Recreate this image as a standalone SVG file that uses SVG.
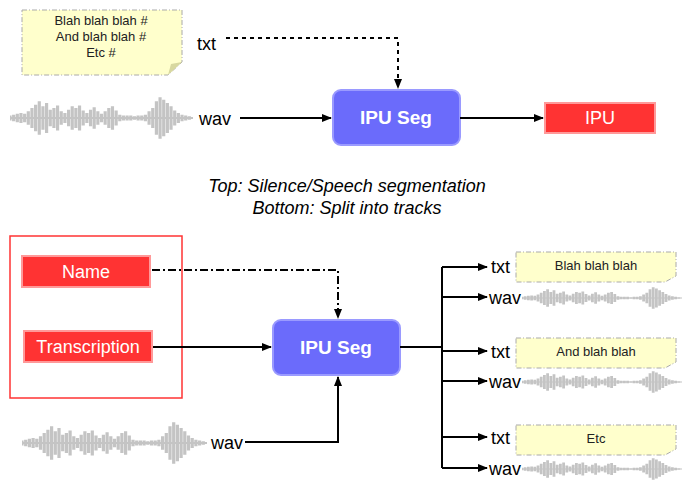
<svg xmlns="http://www.w3.org/2000/svg" width="700" height="495" viewBox="0 0 700 495">
<style>
text{font-family:"Liberation Sans",Arial,sans-serif;}
.lbl{font-size:18px;fill:#000}
.note{fill:#ffffcc;stroke:#aaaaaa;stroke-dasharray:5,2,1,2;stroke-width:1}
.fold{fill:#d8d8a0}
.nt{font-size:13px;fill:#222;text-anchor:middle}
.ipu{fill:#6b6bfb;stroke:#9a9aff;stroke-width:2}
.ipt{font-size:19px;font-weight:bold;fill:#fff;text-anchor:middle}
.red{fill:#ff3333;stroke:#ff9999;stroke-width:2}
.rt{font-size:18px;fill:#fff;text-anchor:middle}
.ln{stroke:#000;stroke-width:2;fill:none}
.wv{stroke:#c4c4c4;stroke-width:2.6;fill:none}
</style>
<defs>
<marker id="ah" markerWidth="10" markerHeight="8" refX="9" refY="4" orient="auto" markerUnits="userSpaceOnUse"><path d="M0,0 L10,4 L0,8 z" fill="#000"/></marker>
<symbol id="wave" viewBox="0 0 150 60" preserveAspectRatio="none">
<path class="wv" d="M0,30 H150 M0,27v6M3,26v8M6,25v10M9,24v12M12,25v10M15,22v16M18,18v24M21,14v32M24,10v40M27,16v28M30,12v36M33,20v20M36,18v24M39,15v30M42,22v16M45,24v12M48,20v20M51,16v28M54,18v24M57,15v30M60,21v18M63,24v12M66,20v20M69,17v26M72,22v16M75,25v10M78,22v16M81,18v24M84,16v28M87,21v18M90,26v8M93,27v6M96,27v6M99,27v6M102,28v4M105,27v6M108,27v6M111,26v8M114,22v16M117,18v24M120,10v40M123,5v50M126,8v44M129,12v36M132,16v28M135,21v18M138,24v12M141,26v8M144,27v6M147,28v4"/>
</symbol>
</defs>
<g id="note-top"><path class="note" d="M22,10 H182 V62 L168,75 H22 Z"/><path class="fold" d="M168,75 L171,64 L182,62 Z"/>
<text class="nt" x="101" y="25">Blah blah blah #</text><text class="nt" x="101" y="41">And blah blah #</text><text class="nt" x="101" y="57">Etc #</text></g>
<g id="wav-top"><use href="#wave" x="10" y="93" width="183" height="50"/></g>
<g id="ipu-top"><rect class="ipu" x="333" y="90" width="127" height="55" rx="8"/><text class="ipt" x="396" y="124">IPU Seg</text></g>
<g id="ipu-out"><rect class="red" x="545" y="103" width="110" height="30"/><text class="rt" x="600" y="124">IPU</text></g>
<g id="caption"><text x="347" y="192" font-size="18" font-style="italic" text-anchor="middle">Top: Silence/Speech segmentation</text><text x="347" y="214" font-size="18" font-style="italic" text-anchor="middle">Bottom: Split into tracks</text></g>
<g id="group-box"><rect x="10" y="236" width="172" height="162" fill="none" stroke="#ff3333" stroke-width="1.5"/></g>
<g id="name"><rect class="red" x="22" y="256" width="128" height="31"/><text class="rt" x="86" y="278">Name</text></g>
<g id="transcription"><rect class="red" x="24" y="331" width="128" height="31"/><text class="rt" x="88" y="353">Transcription</text></g>
<g id="wav-bottom"><use href="#wave" x="22" y="418" width="185" height="50"/></g>
<g id="ipu-bottom"><rect class="ipu" x="273" y="320" width="127" height="55" rx="8"/><text class="ipt" x="336" y="354">IPU Seg</text></g>
<g id="outputs">
<path class="note" d="M516,252 H676 V276 L665,282 H516 Z"/><text class="nt" x="596" y="270">Blah blah blah</text>
<path class="note" d="M516,338 H676 V362 L665,368 H516 Z"/><text class="nt" x="596" y="356">And blah blah</text>
<path class="note" d="M516,425 H676 V449 L665,455 H516 Z"/><text class="nt" x="596" y="443">Etc</text>
<use href="#wave" x="522" y="285" width="160" height="26"/>
<use href="#wave" x="522" y="369" width="160" height="26"/>
<use href="#wave" x="522" y="456" width="160" height="26"/>
</g>
<g id="labels" class="lbl">
<text class="lbl" x="197" y="50">txt</text><text class="lbl" x="199" y="125">wav</text>
<text class="lbl" x="211" y="449">wav</text>
<text class="lbl" x="491" y="273">txt</text><text class="lbl" x="489" y="304">wav</text>
<text class="lbl" x="491" y="358">txt</text><text class="lbl" x="489" y="388">wav</text>
<text class="lbl" x="491" y="444">txt</text><text class="lbl" x="489" y="475">wav</text>
</g>
<g id="connectors">
<path class="ln" d="M226,38 H398 V88" stroke-dasharray="4,4" marker-end="url(#ah)"/>
<path class="ln" d="M240,118 H331" marker-end="url(#ah)"/>
<path class="ln" d="M460,118 H543" marker-end="url(#ah)"/>
<path class="ln" d="M152,270 H338 V318" stroke-dasharray="8,3,2,3" marker-end="url(#ah)"/>
<path class="ln" d="M153,347 H271" marker-end="url(#ah)"/>
<path class="ln" d="M245,442 H338 V377" marker-end="url(#ah)"/>
<path class="ln" d="M400,347 H442 M442,267 V468"/>
<path class="ln" d="M442,267 H487" marker-end="url(#ah)"/>
<path class="ln" d="M442,297 H487" marker-end="url(#ah)"/>
<path class="ln" d="M442,351 H487" marker-end="url(#ah)"/>
<path class="ln" d="M442,381 H487" marker-end="url(#ah)"/>
<path class="ln" d="M442,437 H487" marker-end="url(#ah)"/>
<path class="ln" d="M442,468 H487" marker-end="url(#ah)"/>
</g>
</svg>
